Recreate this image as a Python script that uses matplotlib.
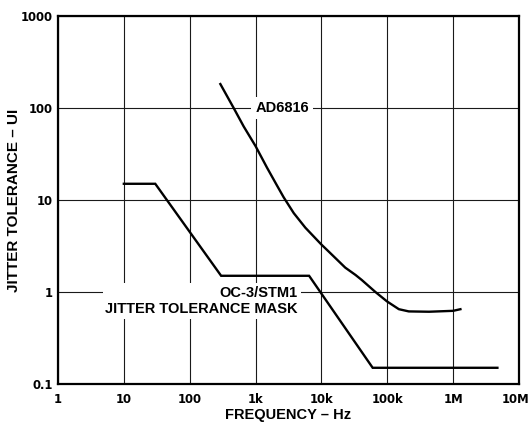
import matplotlib
matplotlib.use('Agg')
import matplotlib.pyplot as plt
import matplotlib.transforms as mtransforms

plt.rcParams['font.family'] = ['Liberation Sans', 'DejaVu Sans']
plt.rcParams['font.weight'] = 'bold'

# OC-3/STM1 jitter tolerance mask
mask_f = [10, 30, 300, 6500, 60000, 4.7e6]
mask_ui = [15, 15, 1.5, 1.5, 0.15, 0.15]

ad_f = [292, 465, 660, 1000, 1490, 2100, 2670, 3800, 5700, 9900, 12900,
        23000, 33000, 41000, 66000, 99000, 150000, 212000, 430000,
        1000000, 1290000]
ad_ui = [182, 100, 63, 38.5, 22.5, 14.5, 10.7, 7.2, 5.0, 3.3, 2.75,
         1.84, 1.53, 1.35, 1.0, 0.79, 0.65, 0.615, 0.61,
         0.624, 0.65]

x_ticks = [1, 10, 100, 1e3, 1e4, 1e5, 1e6, 1e7]
x_labels = ['1', '10', '100', '1k', '10k', '100k', '1M', '10M']
y_ticks = [0.1, 1, 10, 100, 1000]
y_labels = ['0.1', '1', '10', '100', '1000']

fig = plt.figure(figsize=(5.31, 4.25), dpi=100)
ax = fig.add_axes([0.1092, 0.0965, 0.8682, 0.8659])

ax.set_xscale('log')
ax.set_yscale('log')
ax.set_xlim(1, 1e7)
ax.set_ylim(0.1, 1000)

ax.set_xticks(x_ticks)
ax.set_xticklabels(x_labels, family='DejaVu Sans', fontweight='bold', fontsize=8.4)
ax.set_yticks(y_ticks)
ax.set_yticklabels(y_labels, family='DejaVu Sans', fontweight='bold', fontsize=8.4)
ax.minorticks_off()
ax.tick_params(axis='x', length=0, pad=6.5)
ax.tick_params(axis='y', length=0, pad=3.5)

# last label sits a little left so it stays inside the figure
last = ax.get_xticklabels()[-1]
last.set_transform(last.get_transform() +
                   mtransforms.ScaledTranslation(-3 / 100, 0, fig.dpi_scale_trans))

ax.grid(True, which='major', color='#1a1a1a', linewidth=0.8)
ax.set_axisbelow(True)
for s in ax.spines.values():
    s.set_linewidth(1.6)

ax.plot(mask_f, mask_ui, color='black', linewidth=1.7, solid_joinstyle='miter', zorder=3)
ax.plot(ad_f, ad_ui, color='black', linewidth=1.7, zorder=3)

ax.text(2540, 100, 'AD6816', ha='center', va='center', fontsize=10.5, fontweight='bold',
        bbox=dict(facecolor='white', edgecolor='none', pad=3), zorder=4)
ax.text(4400, 0.80, 'OC-3/STM1\nJITTER TOLERANCE MASK', ha='right', va='center',
        multialignment='right', fontsize=10.5, fontweight='bold', linespacing=1.2,
        bbox=dict(facecolor='white', edgecolor='none', pad=2), zorder=4)

ax.set_xlabel('FREQUENCY – Hz', fontsize=10.5, fontweight='bold', labelpad=1.5)
ax.set_ylabel('JITTER TOLERANCE – UI', fontsize=11, fontweight='bold', labelpad=0)

fig.savefig('out.png', dpi=100)
